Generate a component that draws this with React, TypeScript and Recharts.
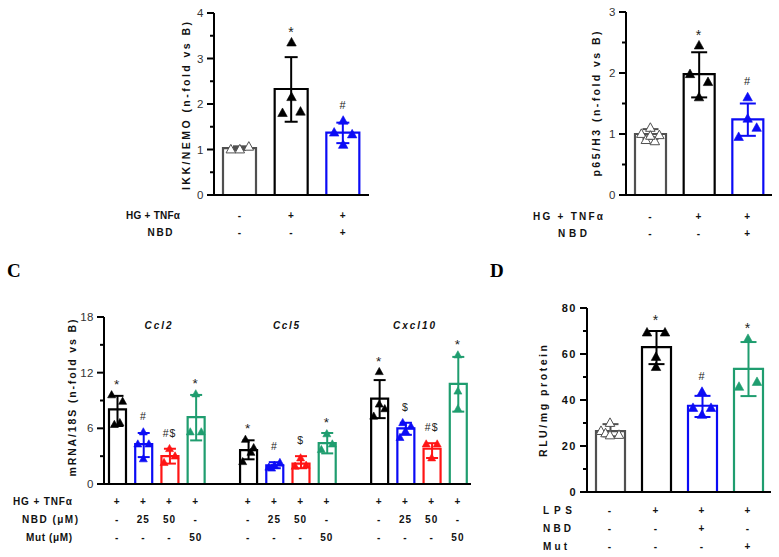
import React from 'react'
import { ComposedChart, Bar, ErrorBar, Scatter, XAxis, YAxis } from 'recharts'

const SANS = '"Liberation Sans", Arial, Helvetica, sans-serif'
const SERIF = '"Liberation Serif", "Times New Roman", serif'

const GRAY = '#505050'
const BLACK = '#000000'
const BLUE = '#0b0bf5'
const RED = '#ff1414'
const GREEN = '#1f9d6f'

// where each point column sits inside its bar: centre, left, right, inner-left, inner-right, centre, centre
const SLOTS = [0, -1, 1, -0.5, 0.5, 0, 0]

// ---------- A : IKK/NEMO ----------
const A_GROUPS = ['B', 'HG+TNF', 'HG+TNF+NBD']
const A_COLORS = [GRAY, BLACK, BLUE]
const A_MEAN = [1.03, 2.33, 1.37]
const A_ERR = [[0.04, 0.04], [0.72, 0.7], [0.23, 0.22]]
const A_POINTS = [
  [1.0, 1.0, 1.06, null, null, null, null],
  [3.35, 1.8, 1.83, null, null, 2.15, null],
  [1.63, 1.37, 1.33, null, null, 1.1, null],
]
const A_SIG = ['', '*', '#']
const A_HG = ['-', '+', '+']
const A_NBD = ['-', '-', '+']
const A_YTICKS = [0, 0.5, 1, 1.5, 2, 2.5, 3, 3.5, 4]
const A_YMAJOR = [0, 1, 2, 3, 4]

// ---------- B : p65/H3 ----------
const B_GROUPS = ['B', 'HG+TNF', 'HG+TNF+NBD']
const B_COLORS = [GRAY, BLACK, BLUE]
const B_MEAN = [1.0, 1.98, 1.24]
const B_ERR = [[0.08, 0.08], [0.38, 0.36], [0.27, 0.26]]
const B_POINTS = [
  [1.1, 1.0, 0.98, 0.9, 0.88, 0.97, null],
  [2.45, 1.98, 1.85, null, null, 1.6, null],
  [1.6, 0.95, 1.1, null, null, 1.25, null],
]
const B_SIG = ['', '*', '#']
const B_HG = ['-', '+', '+']
const B_NBD = ['-', '-', '+']
const B_YTICKS = [0, 0.5, 1, 1.5, 2, 2.5, 3]
const B_YMAJOR = [0, 1, 2, 3]

// ---------- C : mRNA/18S ----------
const C_GROUPS = [
  'Ccl2 HG', 'Ccl2 NBD25', 'Ccl2 NBD50', 'Ccl2 Mut', 'gap1',
  'Ccl5 HG', 'Ccl5 NBD25', 'Ccl5 NBD50', 'Ccl5 Mut', 'gap2',
  'Cxcl10 HG', 'Cxcl10 NBD25', 'Cxcl10 NBD50', 'Cxcl10 Mut',
]
const C_COLORS = [BLACK, BLUE, RED, GREEN, null, BLACK, BLUE, RED, GREEN, null, BLACK, BLUE, RED, GREEN]
const C_MEAN = [8.05, 4.3, 3.0, 7.2, null, 3.66, 2.0, 2.2, 4.4, null, 9.2, 6.0, 3.8, 10.8]
const C_ERR = [
  [1.8, 1.45], [1.4, 1.2], [0.8, 0.8], [2.5, 2.4], null,
  [1.0, 1.05], [0.3, 0.35], [0.5, 0.8], [1.1, 1.1], null,
  [2.1, 2.0], [0.7, 0.6], [1.0, 0.6], [3.0, 2.9],
]
const C_POINTS = [
  [null, 9.6, 8.9, 6.4, 6.6, null, null],
  [5.6, 4.3, 4.3, null, null, 2.7, null],
  [3.8, 2.3, 3.0, null, null, null, null],
  [9.7, 5.6, 5.6, null, null, null, null],
  [],
  [null, 2.4, 3.9, 4.8, 3.4, null, null],
  [2.0, 1.8, 2.3, 1.7, null, null, null],
  [2.8, 1.9, 2.0, null, null, null, null],
  [5.4, 3.7, 4.3, null, null, null, null],
  [],
  [12.1, 7.3, 8.1, null, null, 8.6, null],
  [5.7, 5.0, 6.2, 6.6, null, null, null],
  [2.8, 4.3, 4.3, null, null, null, null],
  [13.9, null, null, null, null, 10.0, 8.1],
]
const C_SIG = ['*', '#', '#$', '*', '', '*', '#', '$', '*', '', '*', '$', '#$', '*']
const C_HG = ['+', '+', '+', '+', '', '+', '+', '+', '+', '', '+', '+', '+', '+']
const C_NBD = ['-', '25', '50', '-', '', '-', '25', '50', '-', '', '-', '25', '50', '-']
const C_MUT = ['-', '-', '-', '50', '', '-', '-', '-', '50', '', '-', '-', '-', '50']
const C_GENES = ['Ccl2', 'Ccl5', 'Cxcl10']
const C_YTICKS = [0, 3, 6, 9, 12, 15, 18]
const C_YMAJOR = [0, 6, 12, 18]

// ---------- D : RLU/mg protein ----------
const D_GROUPS = ['B', 'LPS', 'LPS+NBD', 'LPS+Mut']
const D_COLORS = [GRAY, BLACK, BLUE, GREEN]
const D_MEAN = [26.5, 63, 37.5, 53.5]
const D_ERR = [[2.3, 3.0], [7.4, 7.0], [4.9, 4.3], [11.8, 11.7]]
const D_POINTS = [
  [30, 26.5, 24.8, 25.5, null, 24.6, null],
  [58.7, 69.3, 69.3, null, null, 54.3, null],
  [43.5, 36.5, 36.5, null, null, 33.5, null],
  [66.5, 45.7, 47.8, null, null, null, null],
]
const D_SIG = ['', '*', '#', '*']
const D_LPS = ['-', '+', '+', '+']
const D_NBD = ['-', '-', '+', '-']
const D_MUT = ['-', '-', '-', '+']
const D_YTICKS = [0, 10, 20, 30, 40, 50, 60, 70, 80]
const D_YMAJOR = [0, 20, 40, 60, 80]

type PanelDef = {
  left: number
  top: number
  width: number
  height: number
  margin: { top: number; right: number; left: number; bottom: number }
  xHeight: number
  groups: string[]
  colors: (string | null)[]
  mean: (number | null)[]
  err: (number[] | null)[]
  points: (number | null)[][]
  sig: string[]
  rows: string[][]
  rowOffsets: number[]
  domain: [number, number]
  ticks: number[]
  major: number[]
  boldTicks?: boolean
  barSize: number
  cap: number
  tri: number
  spread: number
  sigSize: number
}

function buildRows(p: PanelDef, palette: string[]) {
  return p.groups.map((name, i) => {
    const row: Record<string, any> = { name, sig: p.sig[i] }
    const c = p.colors[i]
    const m = p.mean[i]
    const e = p.err[i]
    if (c && m != null) {
      const ci = palette.indexOf(c)
      row['m' + ci] = m
      row['e' + ci] = e
    }
    const pts = p.points[i] || []
    pts.forEach((v, s) => {
      if (v != null) row['p' + s] = v
    })
    if (p.sig[i] && m != null && e) {
      const vals = pts.filter((v): v is number => v != null)
      row.ann = Math.max(...vals, m + e[1])
    }
    return row
  })
}

function Panel(p: PanelDef) {
  const palette = Array.from(new Set(p.colors.filter((c): c is string => !!c)))
  const data = buildRows(p, palette)

  const yTick = (props: any) => {
    const { x, y, payload } = props
    const isMajor = p.major.includes(payload.value)
    return (
      <g>
        <line x1={x - (isMajor ? 7 : 4)} x2={x} y1={y} y2={y} stroke="#000" strokeWidth={2} />
        {isMajor && (
          <text
            x={x - 10}
            y={y + 4}
            textAnchor="end"
            fontSize={p.boldTicks ? 11 : 11.5}
            fontWeight={p.boldTicks ? 'bold' : 'normal'}
            fontFamily={SANS}
            fill={p.boldTicks ? '#111' : '#333'}
            letterSpacing={p.boldTicks ? 1.5 : 0.5}
          >
            {payload.value}
          </text>
        )}
      </g>
    )
  }

  const xTick = (props: any) => {
    const { x, y, index } = props
    return (
      <g>
        {p.rows.map((r, k) => (
          <text
            key={k}
            x={x}
            y={y + p.rowOffsets[k]}
            textAnchor="middle"
            fontSize={10}
            fontWeight="bold"
            fontFamily={SANS}
            fill="#111"
            letterSpacing={1}
          >
            {r[index]}
          </text>
        ))}
      </g>
    )
  }

  const triShape = (slot: number) => (props: any) => {
    const { cx, cy, payload } = props
    if (!payload || payload['p' + slot] == null || !Number.isFinite(cx) || !Number.isFinite(cy)) return <g />
    const i = p.groups.indexOf(payload.name)
    const c = p.colors[i] || '#000'
    const hollow = c === GRAY
    const x = cx + SLOTS[slot] * p.spread
    const s = p.tri
    const h = s * 0.9
    return (
      <path
        d={`M${x},${cy - h * 0.6}L${x + s / 2},${cy + h * 0.4}L${x - s / 2},${cy + h * 0.4}Z`}
        fill={hollow ? '#fff' : c}
        stroke={c}
        strokeWidth={hollow ? 1 : 0.6}
      />
    )
  }

  const sigShape = (props: any) => {
    const { cx, cy, payload } = props
    if (!payload || !payload.sig || !Number.isFinite(cy)) return <g />
    const star = payload.sig === '*'
    return (
      <text
        x={cx}
        y={cy - (star ? 6 : 12)}
        textAnchor="middle"
        fontSize={star ? p.sigSize + 3 : p.sigSize}
        fontFamily={SANS}
        fill="#222"
        letterSpacing={1}
      >
        {payload.sig}
      </text>
    )
  }

  return (
    <div style={{ position: 'absolute', left: p.left, top: p.top }}>
      <ComposedChart width={p.width} height={p.height} data={data} margin={p.margin}>
        <XAxis
          dataKey="name"
          type="category"
          interval={0}
          height={p.xHeight}
          tickSize={0}
          tickMargin={0}
          tickLine={false}
          axisLine={{ stroke: '#000', strokeWidth: 2 }}
          tick={xTick}
        />
        <YAxis
          type="number"
          domain={p.domain}
          ticks={p.ticks}
          interval={0}
          allowDataOverflow
          width={30}
          tickSize={0}
          tickMargin={0}
          tickLine={false}
          axisLine={{ stroke: '#000', strokeWidth: 2 }}
          tick={yTick}
        />
        {palette.map((c, ci) => (
          <Bar
            key={c}
            dataKey={'m' + ci}
            stackId="s"
            barSize={p.barSize}
            fill="#fff"
            stroke={c}
            strokeWidth={2.2}
            isAnimationActive={false}
          >
            <ErrorBar dataKey={'e' + ci} width={p.cap} stroke={c} strokeWidth={2} direction="y" />
          </Bar>
        ))}
        {SLOTS.map((_, s) => (
          <Scatter key={s} dataKey={'p' + s} shape={triShape(s)} isAnimationActive={false} />
        ))}
        <Scatter dataKey="ann" shape={sigShape} isAnimationActive={false} />
      </ComposedChart>
    </div>
  )
}

const T = (props: any) => (
  <text fontFamily={SANS} fontWeight="bold" fontSize={10} fill="#111" lengthAdjust="spacing" {...props} />
)

const YLabel = ({ x, y, len, children }: any) => (
  <text
    transform={`translate(${x},${y}) rotate(-90)`}
    textAnchor="middle"
    dominantBaseline="central"
    fontFamily={SANS}
    fontWeight="bold"
    fontSize={10.5}
    fill="#111"
    textLength={len}
    lengthAdjust="spacing"
  >
    {children}
  </text>
)

export default function App() {
  return (
    <div style={{ position: 'absolute', left: 0, top: 0, width: 779, height: 557, background: '#fff' }}>
      <Panel
        left={150}
        top={0}
        width={230}
        height={250}
        margin={{ top: 13, right: 11, left: 34, bottom: 5 }}
        xHeight={50}
        groups={A_GROUPS}
        colors={A_COLORS}
        mean={A_MEAN}
        err={A_ERR}
        points={A_POINTS}
        sig={A_SIG}
        rows={[A_HG, A_NBD]}
        rowOffsets={[23.6, 40.6]}
        domain={[0, 4]}
        ticks={A_YTICKS}
        major={A_YMAJOR}
        barSize={33}
        cap={6.5}
        tri={9.5}
        spread={9}
        sigSize={11}
      />
      <Panel
        left={560}
        top={0}
        width={219}
        height={250}
        margin={{ top: 12, right: 7, left: 36, bottom: 5 }}
        xHeight={50}
        groups={B_GROUPS}
        colors={B_COLORS}
        mean={B_MEAN}
        err={B_ERR}
        points={B_POINTS}
        sig={B_SIG}
        rows={[B_HG, B_NBD]}
        rowOffsets={[24.6, 41.6]}
        domain={[0, 3]}
        ticks={B_YTICKS}
        major={B_YMAJOR}
        barSize={31}
        cap={8}
        tri={9.5}
        spread={9}
        sigSize={11}
      />
      <Panel
        left={40}
        top={300}
        width={440}
        height={257}
        margin={{ top: 17, right: 9, left: 34, bottom: 13 }}
        xHeight={60}
        groups={C_GROUPS}
        colors={C_COLORS}
        mean={C_MEAN}
        err={C_ERR}
        points={C_POINTS}
        sig={C_SIG}
        rows={[C_HG, C_NBD, C_MUT]}
        rowOffsets={[20.6, 38.6, 56.6]}
        domain={[0, 18]}
        ticks={C_YTICKS}
        major={C_YMAJOR}
        barSize={17}
        cap={6}
        tri={8}
        spread={5.5}
        sigSize={10.5}
      />
      <Panel
        left={530}
        top={290}
        width={249}
        height={267}
        margin={{ top: 18, right: 8, left: 27, bottom: 0 }}
        xHeight={65}
        groups={D_GROUPS}
        colors={D_COLORS}
        mean={D_MEAN}
        err={D_ERR}
        points={D_POINTS}
        sig={D_SIG}
        rows={[D_LPS, D_NBD, D_MUT]}
        rowOffsets={[21.6, 39.6, 57.6]}
        domain={[0, 80]}
        ticks={D_YTICKS}
        major={D_YMAJOR}
        boldTicks
        barSize={29}
        cap={8}
        tri={9.5}
        spread={9}
        sigSize={11}
      />
      <svg
        width={779}
        height={557}
        style={{ position: 'absolute', left: 0, top: 0, pointerEvents: 'none' }}
      >
        <YLabel x={186} y={106} len={168}>IKK/NEMO (n-fold vs B)</YLabel>
        <YLabel x={596} y={104} len={145}>p65/H3 (n-fold vs B)</YLabel>
        <YLabel x={72} y={398} len={157}>mRNA/18S (n-fold vs B)</YLabel>
        <YLabel x={543} y={401} len={112}>RLU/mg protein</YLabel>

        <T x={153} y={218.5} textAnchor="middle" textLength={54}>HG + TNFα</T>
        <T x={160} y={235.5} textAnchor="middle" textLength={25}>NBD</T>
        <T x={568} y={219.5} textAnchor="middle" textLength={70}>HG + TNFα</T>
        <T x={572.5} y={236.5} textAnchor="middle" textLength={29}>NBD</T>

        <T x={42.5} y={504.5} textAnchor="middle" textLength={59}>HG + TNFα</T>
        <T x={50} y={522.5} textAnchor="middle" textLength={56}>NBD (μM)</T>
        <T x={49} y={540.5} textAnchor="middle" textLength={46}>Mut (μM)</T>

        <T x={543} y={513.5} textLength={29}>LPS</T>
        <T x={543} y={531.5} textLength={28}>NBD</T>
        <T x={543} y={549.5} textLength={24}>Mut</T>

        <T x={158} y={328.5} textAnchor="middle" textLength={27} fontStyle="italic">{C_GENES[0]}</T>
        <T x={286} y={328.5} textAnchor="middle" textLength={26} fontStyle="italic">{C_GENES[1]}</T>
        <T x={414} y={328.5} textAnchor="middle" textLength={42} fontStyle="italic">{C_GENES[2]}</T>

        <text x={7} y={277} fontFamily={SERIF} fontWeight="bold" fontSize={19} fill="#000">C</text>
        <text x={490} y={277} fontFamily={SERIF} fontWeight="bold" fontSize={19} fill="#000">D</text>
      </svg>
    </div>
  )
}
